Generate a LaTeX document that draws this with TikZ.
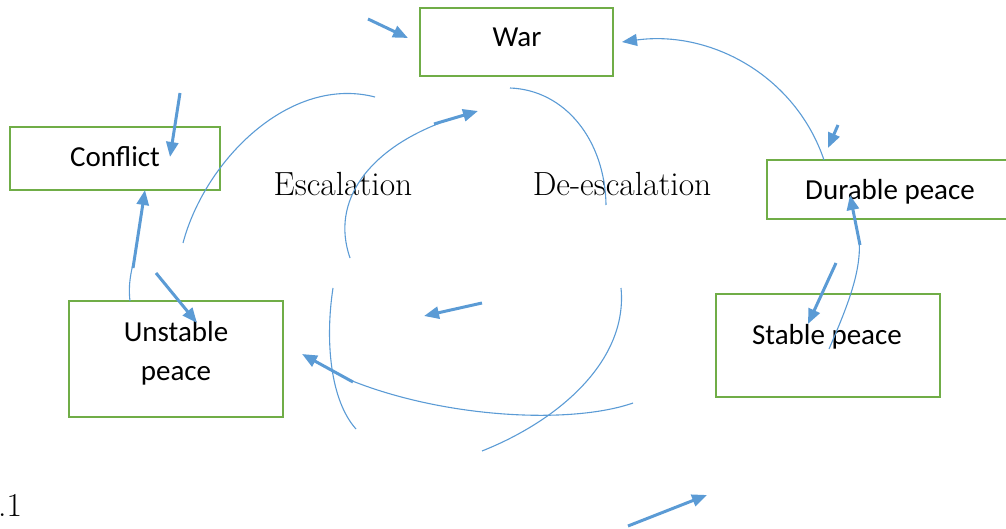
\documentclass[tikz,border=0pt]{standalone}
\usepackage{fontspec}
\newfontfamily\boxfont{Carlito}
\usetikzlibrary{arrows.meta}
\definecolor{lblue}{HTML}{5B9BD5}
\definecolor{lgreen}{HTML}{70AD47}
\tikzset{
  stagebox/.style={draw=lgreen, line width=2.4pt},
  boxtext/.style={font=\boxfont\fontsize{29}{40}\selectfont, anchor=base, inner sep=0pt},
  sertext/.style={font=\fontsize{33.5}{40}\selectfont, anchor=base, inner sep=0pt},
  thinline/.style={draw=lblue, line width=1.1pt},
  thickarrow/.style={draw=lblue, line width=3pt, -{Triangle[length=15pt,width=12pt]}},
  thinarrow/.style={draw=lblue, line width=1.1pt, -{Triangle[length=15pt,width=12pt]}},
}
\begin{document}
\begin{tikzpicture}[x=1pt,y=-1pt]
\useasboundingbox (0,0) rectangle (1006,529);
% boxes
\draw[stagebox] (420,8) rectangle (613,76);
\draw[stagebox] (10,127) rectangle (220,190);
\draw[stagebox] (767,160) rectangle (1012,219);
\draw[stagebox] (69,301) rectangle (283,417);
\draw[stagebox] (716,294) rectangle (940,397);
% texts
\node[boxtext] (war) at (517,47) {War};
\node[boxtext] (conflict) at (115,167) {Conflict};
\node[boxtext] (durable) at (890,200) {Durable peace};
\node[boxtext] (unstable1) at (176,341) {Unstable};
\node[boxtext] (unstable2) at (176,380) {peace};
\node[boxtext] (stable) at (827,344) {Stable peace};
\node[sertext] (esc) at (343,196) {Escalation};
\node[sertext] (desc) at (622,196) {De-escalation};
\node[sertext, anchor=base west] (fig) at (-2,516) {.1};
% thin curves
\draw[thinline] (183,243) .. controls (205,160) and (290,75) .. (375,97);
\draw[thinline] (350,258) .. controls (330,200) and (370,150) .. (440,123);
\draw[thinline] (510,88) .. controls (565,90) and (605,140) .. (606,205);
\draw[thinarrow] (824,160) .. controls (795,75) and (710,30) .. (622,42);
\draw[thinline] (829,349) .. controls (848,305) and (862,270) .. (859,238);
\draw[thinline] (621,288) .. controls (628,360) and (560,420) .. (482,451);
\draw[thinline] (633,403) .. controls (570,425) and (440,418) .. (345,378);
\draw[thinline] (333,288) .. controls (325,340) and (330,400) .. (356,429);
\draw[thinline] (130,301) .. controls (128,285) and (131,272) .. (134,260);
% thick arrows
\draw[thickarrow] (434,124) -- (478,111);
\draw[thickarrow] (838,125) -- (828,148);
\draw[thickarrow] (860,245) -- (850,195);
\draw[thickarrow] (836,263) -- (808,324);
\draw[thickarrow] (482,303) -- (424,316);
\draw[thickarrow] (353,382) -- (302,354);
\draw[thickarrow] (133,268) -- (145,190);
\draw[thickarrow] (180,93) -- (170,157);
\draw[thickarrow] (156,273) -- (197,323);
\draw[thickarrow] (368,19) -- (408,38);
\draw[thickarrow] (628,526) -- (707,495);
\end{tikzpicture}
\end{document}
